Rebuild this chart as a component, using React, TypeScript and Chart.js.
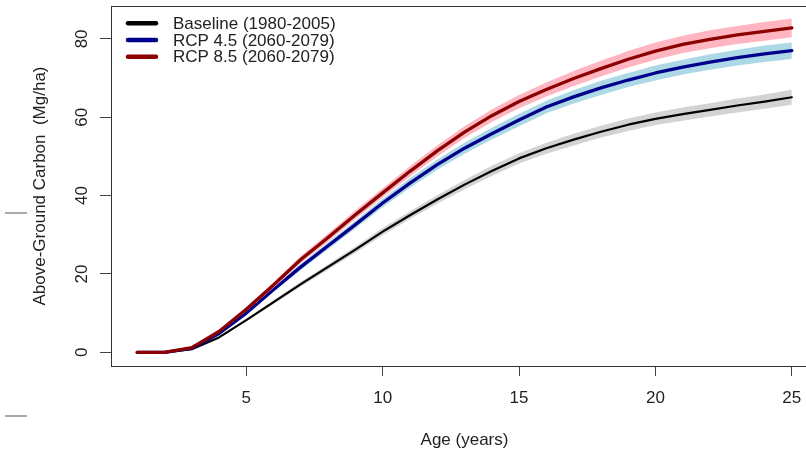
import React, { useEffect, useRef } from "react";
import { Chart, registerables } from "chart.js";

Chart.register(...registerables);

const ages = [1, 2, 3, 4, 5, 6, 7, 8, 9, 10, 11, 12, 13, 14, 15, 16, 17, 18, 19, 20, 21, 22, 23, 24, 25];
const baseline = [0, 0, 0.8, 3.8, 8.2, 12.8, 17.4, 21.8, 26.2, 30.8, 35.0, 39.0, 42.8, 46.3, 49.5, 52.1, 54.3, 56.3, 58.1, 59.6, 60.8, 61.9, 63.0, 64.0, 65.1];
const rcp45 = [0, 0, 1.0, 4.8, 10.0, 16.0, 21.8, 27.2, 32.6, 38.1, 43.2, 47.9, 52.1, 55.8, 59.3, 62.6, 65.2, 67.5, 69.5, 71.3, 72.8, 74.1, 75.2, 76.2, 77.0];
const rcp85 = [0, 0, 1.2, 5.3, 11.0, 17.2, 23.7, 29.3, 35.1, 40.7, 46.2, 51.4, 56.2, 60.4, 64.0, 67.1, 69.9, 72.4, 74.8, 76.9, 78.6, 79.9, 81.0, 81.9, 82.8];
const baselineSpread = [0, 0, 0.1, 0.2, 0.3, 0.5, 0.6, 0.7, 0.8, 0.9, 1.0, 1.1, 1.2, 1.3, 1.3, 1.4, 1.5, 1.5, 1.6, 1.6, 1.7, 1.7, 1.8, 1.8, 1.9];
const rcp45Spread = [0, 0, 0.1, 0.2, 0.4, 0.6, 0.8, 0.9, 1.0, 1.1, 1.2, 1.3, 1.4, 1.5, 1.6, 1.6, 1.7, 1.8, 1.8, 1.9, 1.9, 2.0, 2.0, 2.1, 2.1];
const rcp85Spread = [0, 0, 0.1, 0.3, 0.5, 0.7, 0.9, 1.0, 1.1, 1.2, 1.3, 1.4, 1.5, 1.6, 1.7, 1.8, 1.9, 2.0, 2.1, 2.2, 2.2, 2.3, 2.3, 2.4, 2.4];
const seriesNames = ["Baseline (1980-2005)", "RCP 4.5 (2060-2079)", "RCP 8.5 (2060-2079)"];
const xTicks = [5, 10, 15, 20, 25];
const yTicks = [0, 20, 40, 60, 80];
const xTitle = "Age (years)";
const yTitle = "Above-Ground Carbon  (Mg/ha)";

const FONT = "'Liberation Sans', Arial, sans-serif";
const lineColors = ["#000000", "#00008B", "#8B0000"];
const bandColors = ["#D3D3D3", "#ADD8E6", "#FFB6C1"];

const pts = (vals: number[]) => ages.map((a, i) => ({ x: a, y: vals[i] }));
const bound = (vals: number[], spread: number[], sign: number) =>
  ages.map((a, i) => ({ x: a, y: vals[i] + sign * spread[i] }));

const legendPlugin = {
  id: "rLegend",
  afterDraw(chart: any) {
    const ctx = chart.ctx;
    ctx.save();
    const ys = [23.3, 40, 56.7];
    seriesNames.forEach((name, i) => {
      ctx.strokeStyle = lineColors[i];
      ctx.lineWidth = 4.5;
      ctx.lineCap = "round";
      ctx.beginPath();
      ctx.moveTo(128, ys[i]);
      ctx.lineTo(156, ys[i]);
      ctx.stroke();
      ctx.fillStyle = "#222";
      ctx.font = `17px ${FONT}`;
      ctx.textBaseline = "middle";
      ctx.textAlign = "left";
      ctx.fillText(name, 173, ys[i] + 1);
    });
    ctx.restore();
  },
};

const boxPlugin = {
  id: "rBox",
  afterDraw(chart: any) {
    const { ctx, chartArea } = chart;
    ctx.save();
    ctx.strokeStyle = "#333";
    ctx.lineWidth = 1;
    ctx.strokeRect(chartArea.left + 0.5, chartArea.top + 0.5, chartArea.right - chartArea.left, chartArea.bottom - chartArea.top);
    // stray marks at the left edge of the figure
    ctx.strokeStyle = "#aaaaaa";
    ctx.lineWidth = 2;
    ctx.beginPath();
    ctx.moveTo(5, 213);
    ctx.lineTo(27, 213);
    ctx.moveTo(5, 416);
    ctx.lineTo(27, 416);
    ctx.stroke();
    ctx.restore();
  },
};

export default function App() {
  const ref = useRef<HTMLCanvasElement | null>(null);
  useEffect(() => {
    if (!ref.current) return;
    const lineDs = (label: string, data: number[], color: string, width: number) => ({
      label,
      data: pts(data),
      borderColor: color,
      backgroundColor: color,
      borderWidth: width,
      pointRadius: 0,
      tension: 0,
      fill: false,
      borderCapStyle: "round",
      borderJoinStyle: "round",
    });
    const upperDs = (data: number[], spread: number[], color: string, target: number) => ({
      label: "band-upper",
      data: bound(data, spread, 1),
      borderWidth: 0,
      borderColor: "rgba(0,0,0,0)",
      backgroundColor: color,
      pointRadius: 0,
      tension: 0,
      fill: target,
    });
    const lowerDs = (data: number[], spread: number[]) => ({
      label: "band-lower",
      data: bound(data, spread, -1),
      borderWidth: 0,
      borderColor: "rgba(0,0,0,0)",
      pointRadius: 0,
      tension: 0,
      fill: false,
    });
    const datasets: any[] = [
      lineDs(seriesNames[2], rcp85, lineColors[2], 3.3), // 0
      upperDs(rcp85, rcp85Spread, bandColors[2], 2), // 1
      lowerDs(rcp85, rcp85Spread), // 2
      lineDs(seriesNames[1], rcp45, lineColors[1], 3.3), // 3
      upperDs(rcp45, rcp45Spread, bandColors[1], 5), // 4
      lowerDs(rcp45, rcp45Spread), // 5
      lineDs(seriesNames[0], baseline, lineColors[0], 2.2), // 6
      upperDs(baseline, baselineSpread, bandColors[0], 8), // 7
      lowerDs(baseline, baselineSpread), // 8
    ];
    const chart = new Chart(ref.current, {
      type: "line",
      data: { datasets },
      plugins: [legendPlugin, boxPlugin],
      options: {
        animation: false,
        responsive: false,
        devicePixelRatio: 1,
        layout: { padding: { left: 0, right: 2, top: 6, bottom: 0 } },
        plugins: { legend: { display: false }, tooltip: { enabled: false } },
        scales: {
          x: {
            type: "linear",
            min: 0.04,
            max: 25.96,
            afterBuildTicks: (s: any) => {
              s.ticks = xTicks.map((v) => ({ value: v }));
            },
            afterFit: (s: any) => {
              s.height = 88;
              s.paddingLeft = 0;
              s.paddingRight = 0;
            },
            grid: { display: true, drawOnChartArea: false, drawTicks: true, tickLength: 10, color: "#444" },
            border: { display: true, color: "#333", width: 1 },
            ticks: { color: "#222", font: { size: 17, family: FONT }, padding: 12, maxRotation: 0 },
            title: { display: true, text: xTitle, color: "#222", font: { size: 17, family: FONT }, padding: { top: 0, bottom: 3 } },
          },
          y: {
            type: "linear",
            min: -3.5,
            max: 88.4,
            afterBuildTicks: (s: any) => {
              s.ticks = yTicks.map((v) => ({ value: v }));
            },
            afterFit: (s: any) => {
              s.width = 111;
              s.paddingTop = 0;
              s.paddingBottom = 0;
            },
            grid: { display: true, drawOnChartArea: false, drawTicks: true, tickLength: 11, color: "#444" },
            border: { display: true, color: "#333", width: 1 },
            ticks: { color: "#222", font: { size: 17, family: FONT }, padding: 8, minRotation: 90, maxRotation: 90, crossAlign: "center" },
            title: { display: true, text: yTitle, color: "#222", font: { size: 17, family: FONT }, padding: { top: 30, bottom: 0 } },
          },
        },
      } as any,
    });
    return () => chart.destroy();
  }, []);
  return (
    <div style={{ position: "absolute", left: 0, top: 0, width: 806, height: 454, overflow: "hidden", background: "#fff" }}>
      <canvas ref={ref} width={820} height={454} style={{ display: "block", width: 820, height: 454 }} />
    </div>
  );
}
